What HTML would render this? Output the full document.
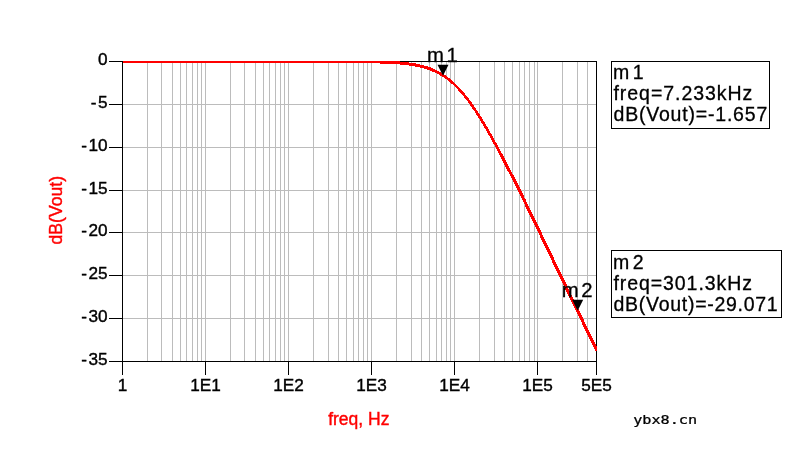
<!DOCTYPE html>
<html lang="en"><head><meta charset="utf-8"><title>dB(Vout) vs freq</title>
<style>
html,body{margin:0;padding:0;background:#fff;}
body{width:812px;height:450px;overflow:hidden;position:relative;}
svg{position:absolute;left:0;top:0;display:block;}
text{font-family:"Liberation Sans",Arial,Helvetica,sans-serif;fill:#000;}
.tick{font-size:17.2px;stroke:#000;stroke-width:0.4px;}
.red{fill:#ff0000;stroke:#ff0000;stroke-width:0.4px;}
.mk{font-size:19.5px;stroke:#000;stroke-width:0.3px;}
.wm{font-family:"DejaVu Sans Mono","Liberation Mono",monospace;font-size:11.5px;stroke:#000;stroke-width:0.25px;}
</style></head><body>
<svg width="812" height="450" viewBox="0 0 812 450">
<rect x="0" y="0" width="812" height="450" fill="#ffffff"/>
<g shape-rendering="crispEdges" stroke="#bcbcbc" stroke-width="1">
<line x1="147.5" y1="61" x2="147.5" y2="361"/>
<line x1="161.5" y1="61" x2="161.5" y2="361"/>
<line x1="172.5" y1="61" x2="172.5" y2="361"/>
<line x1="180.5" y1="61" x2="180.5" y2="361"/>
<line x1="186.5" y1="61" x2="186.5" y2="361"/>
<line x1="192.5" y1="61" x2="192.5" y2="361"/>
<line x1="197.5" y1="61" x2="197.5" y2="361"/>
<line x1="201.5" y1="61" x2="201.5" y2="361"/>
<line x1="205.5" y1="61" x2="205.5" y2="361"/>
<line x1="230.5" y1="61" x2="230.5" y2="361"/>
<line x1="244.5" y1="61" x2="244.5" y2="361"/>
<line x1="255.5" y1="61" x2="255.5" y2="361"/>
<line x1="263.5" y1="61" x2="263.5" y2="361"/>
<line x1="269.5" y1="61" x2="269.5" y2="361"/>
<line x1="275.5" y1="61" x2="275.5" y2="361"/>
<line x1="280.5" y1="61" x2="280.5" y2="361"/>
<line x1="284.5" y1="61" x2="284.5" y2="361"/>
<line x1="288.5" y1="61" x2="288.5" y2="361"/>
<line x1="313.5" y1="61" x2="313.5" y2="361"/>
<line x1="328.5" y1="61" x2="328.5" y2="361"/>
<line x1="338.5" y1="61" x2="338.5" y2="361"/>
<line x1="346.5" y1="61" x2="346.5" y2="361"/>
<line x1="353.5" y1="61" x2="353.5" y2="361"/>
<line x1="358.5" y1="61" x2="358.5" y2="361"/>
<line x1="363.5" y1="61" x2="363.5" y2="361"/>
<line x1="367.5" y1="61" x2="367.5" y2="361"/>
<line x1="371.5" y1="61" x2="371.5" y2="361"/>
<line x1="396.5" y1="61" x2="396.5" y2="361"/>
<line x1="411.5" y1="61" x2="411.5" y2="361"/>
<line x1="421.5" y1="61" x2="421.5" y2="361"/>
<line x1="429.5" y1="61" x2="429.5" y2="361"/>
<line x1="436.5" y1="61" x2="436.5" y2="361"/>
<line x1="441.5" y1="61" x2="441.5" y2="361"/>
<line x1="446.5" y1="61" x2="446.5" y2="361"/>
<line x1="450.5" y1="61" x2="450.5" y2="361"/>
<line x1="454.5" y1="61" x2="454.5" y2="361"/>
<line x1="479.5" y1="61" x2="479.5" y2="361"/>
<line x1="494.5" y1="61" x2="494.5" y2="361"/>
<line x1="504.5" y1="61" x2="504.5" y2="361"/>
<line x1="512.5" y1="61" x2="512.5" y2="361"/>
<line x1="519.5" y1="61" x2="519.5" y2="361"/>
<line x1="524.5" y1="61" x2="524.5" y2="361"/>
<line x1="529.5" y1="61" x2="529.5" y2="361"/>
<line x1="534.5" y1="61" x2="534.5" y2="361"/>
<line x1="537.5" y1="61" x2="537.5" y2="361"/>
<line x1="562.5" y1="61" x2="562.5" y2="361"/>
<line x1="577.5" y1="61" x2="577.5" y2="361"/>
<line x1="587.5" y1="61" x2="587.5" y2="361"/>
<line x1="122" y1="104.5" x2="596" y2="104.5"/>
<line x1="122" y1="147.5" x2="596" y2="147.5"/>
<line x1="122" y1="190.5" x2="596" y2="190.5"/>
<line x1="122" y1="232.5" x2="596" y2="232.5"/>
<line x1="122" y1="275.5" x2="596" y2="275.5"/>
<line x1="122" y1="318.5" x2="596" y2="318.5"/>
</g>
<g shape-rendering="crispEdges" stroke="#000" stroke-width="1">
<line x1="122.5" y1="61" x2="122.5" y2="362"/>
<line x1="596.5" y1="61" x2="596.5" y2="375"/>
<line x1="122" y1="61.5" x2="597" y2="61.5"/>
<line x1="122" y1="361.5" x2="597" y2="361.5"/>
<line x1="109" y1="61.5" x2="122" y2="61.5"/>
<line x1="109" y1="104.5" x2="122" y2="104.5"/>
<line x1="109" y1="147.5" x2="122" y2="147.5"/>
<line x1="109" y1="190.5" x2="122" y2="190.5"/>
<line x1="109" y1="232.5" x2="122" y2="232.5"/>
<line x1="109" y1="275.5" x2="122" y2="275.5"/>
<line x1="109" y1="318.5" x2="122" y2="318.5"/>
<line x1="109" y1="361.5" x2="122" y2="361.5"/>
<line x1="122.5" y1="361" x2="122.5" y2="375"/>
<line x1="205.5" y1="361" x2="205.5" y2="375"/>
<line x1="288.5" y1="361" x2="288.5" y2="375"/>
<line x1="371.5" y1="361" x2="371.5" y2="375"/>
<line x1="454.5" y1="361" x2="454.5" y2="375"/>
<line x1="537.5" y1="361" x2="537.5" y2="375"/>
</g>
<clipPath id="cp"><rect x="122" y="61" width="475" height="301"/></clipPath>
<g clip-path="url(#cp)" shape-rendering="crispEdges" fill="none" stroke="#ff0000" stroke-linejoin="round">
<polyline stroke-width="3.0" points="122.50,61.50 123.29,61.50 124.08,61.50 124.88,61.50 125.67,61.50 126.46,61.50 127.25,61.50 128.05,61.50 128.84,61.50 129.63,61.50 130.42,61.50 131.21,61.50 132.01,61.50 132.80,61.50 133.59,61.50 134.38,61.50 135.17,61.50 135.97,61.50 136.76,61.50 137.55,61.50 138.34,61.50 139.14,61.50 139.93,61.50 140.72,61.50 141.51,61.50 142.30,61.50 143.10,61.50 143.89,61.50 144.68,61.50 145.47,61.50 146.26,61.50 147.06,61.50 147.85,61.50 148.64,61.50 149.43,61.50 150.23,61.50 151.02,61.50 151.81,61.50 152.60,61.50 153.39,61.50 154.19,61.50 154.98,61.50 155.77,61.50 156.56,61.50 157.36,61.50 158.15,61.50 158.94,61.50 159.73,61.50 160.52,61.50 161.32,61.50 162.11,61.50 162.90,61.50 163.69,61.50 164.48,61.50 165.28,61.50 166.07,61.50 166.86,61.50 167.65,61.50 168.45,61.50 169.24,61.50 170.03,61.50 170.82,61.50 171.61,61.50 172.41,61.50 173.20,61.50 173.99,61.50 174.78,61.50 175.58,61.50 176.37,61.50 177.16,61.50 177.95,61.50 178.74,61.50 179.54,61.50 180.33,61.50 181.12,61.50 181.91,61.50 182.70,61.50 183.50,61.50 184.29,61.50 185.08,61.50 185.87,61.50 186.67,61.50 187.46,61.50 188.25,61.50 189.04,61.50 189.83,61.50 190.63,61.50 191.42,61.50 192.21,61.50 193.00,61.50 193.79,61.50 194.59,61.50 195.38,61.50 196.17,61.50 196.96,61.50 197.76,61.50 198.55,61.50 199.34,61.50 200.13,61.50 200.92,61.50 201.72,61.50 202.51,61.50 203.30,61.50 204.09,61.50 204.89,61.50 205.68,61.50 206.47,61.50 207.26,61.50 208.05,61.50 208.85,61.50 209.64,61.50 210.43,61.50 211.22,61.50 212.01,61.50 212.81,61.50 213.60,61.50 214.39,61.50 215.18,61.50 215.98,61.50 216.77,61.50 217.56,61.50 218.35,61.50 219.14,61.50 219.94,61.50 220.73,61.50 221.52,61.50 222.31,61.50 223.11,61.50 223.90,61.50 224.69,61.50 225.48,61.50 226.27,61.50 227.07,61.50 227.86,61.50 228.65,61.50 229.44,61.50 230.23,61.50 231.03,61.50 231.82,61.50 232.61,61.50 233.40,61.50 234.20,61.50 234.99,61.50 235.78,61.50 236.57,61.50 237.36,61.50 238.16,61.50 238.95,61.50 239.74,61.50 240.53,61.50 241.32,61.50 242.12,61.50 242.91,61.50 243.70,61.50 244.49,61.50 245.29,61.50 246.08,61.50 246.87,61.50 247.66,61.50 248.45,61.50 249.25,61.50 250.04,61.50 250.83,61.50 251.62,61.50 252.42,61.50 253.21,61.50 254.00,61.50 254.79,61.50 255.58,61.50 256.38,61.50 257.17,61.50 257.96,61.50 258.75,61.50 259.54,61.50 260.34,61.50 261.13,61.50 261.92,61.50 262.71,61.50 263.51,61.50 264.30,61.50 265.09,61.50 265.88,61.50 266.67,61.50 267.47,61.50 268.26,61.50 269.05,61.50 269.84,61.50 270.64,61.50 271.43,61.50 272.22,61.50 273.01,61.50 273.80,61.50 274.60,61.50 275.39,61.50 276.18,61.50 276.97,61.50 277.76,61.50 278.56,61.50 279.35,61.50 280.14,61.50 280.93,61.50 281.73,61.50 282.52,61.50 283.31,61.50 284.10,61.50 284.89,61.50 285.69,61.50 286.48,61.50 287.27,61.50 288.06,61.50 288.85,61.50 289.65,61.50 290.44,61.50 291.23,61.50 292.02,61.50 292.82,61.50 293.61,61.50 294.40,61.50 295.19,61.50 295.98,61.50 296.78,61.51 297.57,61.51 298.36,61.51 299.15,61.51 299.95,61.51 300.74,61.51 301.53,61.51 302.32,61.51 303.11,61.51 303.91,61.51 304.70,61.51 305.49,61.51 306.28,61.51 307.07,61.51 307.87,61.51 308.66,61.51 309.45,61.51 310.24,61.51 311.04,61.51 311.83,61.51 312.62,61.51 313.41,61.51 314.20,61.51 315.00,61.51 315.79,61.51 316.58,61.52 317.37,61.52 318.17,61.52 318.96,61.52 319.75,61.52 320.54,61.52 321.33,61.52 322.13,61.52 322.92,61.52 323.71,61.52 324.50,61.52 325.29,61.52 326.09,61.53 326.88,61.53 327.67,61.53 328.46,61.53 329.26,61.53 330.05,61.53 330.84,61.53 331.63,61.54 332.42,61.54 333.22,61.54 334.01,61.54 334.80,61.54 335.59,61.54 336.38,61.55 337.18,61.55 337.97,61.55 338.76,61.55 339.55,61.55 340.35,61.56 341.14,61.56 341.93,61.56 342.72,61.57 343.51,61.57 344.31,61.57 345.10,61.57 345.89,61.58 346.68,61.58 347.48,61.58 348.27,61.59 349.06,61.59 349.85,61.60 350.64,61.60 351.44,61.61 352.23,61.61 353.02,61.62 353.81,61.62 354.60,61.63 355.40,61.63 356.19,61.64 356.98,61.64 357.77,61.65 358.57,61.66 359.36,61.66 360.15,61.67 360.94,61.68 361.73,61.69 362.53,61.69 363.32,61.70 364.11,61.71 364.90,61.72 365.70,61.73 366.49,61.74 367.28,61.75 368.07,61.76 368.86,61.78 369.66,61.79 370.45,61.80 371.24,61.82 372.03,61.83 372.82,61.84 373.62,61.86 374.41,61.88 375.20,61.89 375.99,61.91 376.79,61.93 377.58,61.95 378.37,61.97 379.16,61.99 379.95,62.01 380.75,62.03 381.54,62.06 382.33,62.08 383.12,62.11 383.91,62.13 384.71,62.16 385.50,62.19 386.29,62.22 387.08,62.25 387.88,62.29 388.67,62.32 389.46,62.36 390.25,62.40 391.04,62.44 391.84,62.48 392.63,62.52 393.42,62.57 394.21,62.61 395.01,62.66 395.80,62.71 396.59,62.77 397.38,62.82 398.17,62.88 398.97,62.94 399.76,63.01 400.55,63.07 401.34,63.14 402.13,63.21 402.93,63.29 403.72,63.37 404.51,63.45 405.30,63.53 406.10,63.62 406.89,63.71 407.68,63.81 408.47,63.91 409.26,64.01 410.06,64.12 410.85,64.24 411.64,64.35 412.43,64.48 413.23,64.60 414.02,64.74 414.81,64.88 415.60,65.02 416.39,65.17 417.19,65.33 417.98,65.49 418.77,65.66 419.56,65.84 420.35,66.02 421.15,66.21 421.94,66.41 422.73,66.61 423.52,66.83 424.32,67.05 425.11,67.28 425.90,67.52 426.69,67.77 427.48,68.02 428.28,68.29 429.07,68.57 429.86,68.86 430.65,69.15 431.44,69.46 432.24,69.78 433.03,70.12 433.82,70.46 434.61,70.81 435.41,71.18 436.20,71.56 436.99,71.95 437.78,72.36 438.57,72.78 439.37,73.22 440.16,73.66 440.95,74.13 441.74,74.60 442.54,75.09"/>
<polyline stroke-width="2.7" points="442.54,75.09 443.33,75.60 444.12,76.12 444.91,76.66 445.70,77.22 446.50,77.79 447.29,78.37 448.08,78.98 448.87,79.60 449.66,80.23 450.46,80.89 451.25,81.56 452.04,82.25 452.83,82.96 453.63,83.68 454.42,84.42 455.21,85.18 456.00,85.96 456.79,86.75 457.59,87.57 458.38,88.40 459.17,89.25 459.96,90.11 460.76,91.00 461.55,91.90 462.34,92.82 463.13,93.76 463.92,94.71 464.72,95.69 465.51,96.68 466.30,97.68 467.09,98.71 467.88,99.75 468.68,100.80 469.47,101.88 470.26,102.96 471.05,104.07 471.85,105.19 472.64,106.32 473.43,107.47 474.22,108.64 475.01,109.82 475.81,111.01 476.60,112.22 477.39,113.44 478.18,114.68 478.98,115.93 479.77,117.19 480.56,118.46 481.35,119.75 482.14,121.04 482.94,122.35 483.73,123.67 484.52,125.00 485.31,126.34 486.10,127.69 486.90,129.06 487.69,130.43 488.48,131.81 489.27,133.20 490.07,134.60 490.86,136.01 491.65,137.42 492.44,138.85 493.23,140.28 494.03,141.72 494.82,143.17 495.61,144.62 496.40,146.08 497.19,147.55 497.99,149.02 498.78,150.50 499.57,151.99 500.36,153.48"/>
<polyline stroke-width="3.1" points="500.36,153.48 501.16,154.98 501.95,156.48 502.74,157.99 503.53,159.50 504.32,161.02 505.12,162.54 505.91,164.07 506.70,165.60 507.49,167.14 508.29,168.68 509.08,170.22 509.87,171.77 510.66,173.32 511.45,174.87 512.25,176.43 513.04,177.99 513.83,179.55 514.62,181.11 515.41,182.68 516.20,184.25 516.99,185.83 517.78,187.40 518.57,188.98 519.35,190.56 520.14,192.14 520.93,193.73 521.71,195.32 522.50,196.91 523.28,198.50 524.07,200.09 524.85,201.68 525.63,203.28 526.41,204.88 527.20,206.47 527.98,208.07 528.76,209.68 529.54,211.28 530.32,212.88 531.10,214.49 531.88,216.10 532.66,217.70 533.44,219.31 534.22,220.92 535.00,222.53 535.78,224.14 536.55,225.76 537.33,227.37 538.11,228.98 538.89,230.60 539.67,232.21 540.45,233.83 541.22,235.45 542.00,237.07 542.78,238.68 543.56,240.30 544.34,241.92 545.11,243.54 545.89,245.16 546.67,246.78 547.45,248.41 548.23,250.03 549.00,251.65 549.78,253.27 550.56,254.90 551.34,256.52 552.12,258.15 552.90,259.77 553.68,261.40 554.46,263.02 555.24,264.65 556.02,266.27 556.80,267.90 557.59,269.53 558.37,271.15 559.15,272.78 559.93,274.41 560.72,276.03 561.50,277.66 562.29,279.29 563.07,280.92 563.86,282.55 564.64,284.17 565.43,285.80 566.22,287.43 567.01,289.06 567.80,290.69 568.59,292.32 569.38,293.95 570.17,295.58 570.96,297.21 571.75,298.84 572.54,300.47 573.33,302.10 574.13,303.73 574.92,305.36 575.71,306.99 576.50,308.62 577.30,310.25 578.09,311.88 578.88,313.51 579.67,315.14 580.46,316.77 581.26,318.41 582.05,320.04 582.84,321.67 583.63,323.30 584.43,324.93 585.22,326.56 586.01,328.19 586.80,329.83 587.59,331.46 588.39,333.09 589.18,334.72 589.97,336.35 590.76,337.98 591.55,339.62 592.35,341.25 593.14,342.88 593.93,344.51 594.72,346.14 595.52,347.77 596.31,349.41 597.10,351.04"/>
</g>
<text class="tick" x="107.6" y="65.4" text-anchor="end">0</text>
<text class="tick" x="107.6" y="108.4" text-anchor="end">-<tspan dx="1.6">5</tspan></text>
<text class="tick" x="107.6" y="151.4" text-anchor="end">-<tspan dx="1.6">10</tspan></text>
<text class="tick" x="107.6" y="194.4" text-anchor="end">-<tspan dx="1.6">15</tspan></text>
<text class="tick" x="107.6" y="236.4" text-anchor="end">-<tspan dx="1.6">20</tspan></text>
<text class="tick" x="107.6" y="279.4" text-anchor="end">-<tspan dx="1.6">25</tspan></text>
<text class="tick" x="107.6" y="322.4" text-anchor="end">-<tspan dx="1.6">30</tspan></text>
<text class="tick" x="107.6" y="365.4" text-anchor="end">-<tspan dx="1.6">35</tspan></text>
<text class="tick" x="122.5" y="390.8" text-anchor="middle">1</text>
<text class="tick" x="205.5" y="390.8" text-anchor="middle">1E1</text>
<text class="tick" x="288.5" y="390.8" text-anchor="middle">1E2</text>
<text class="tick" x="371.5" y="390.8" text-anchor="middle">1E3</text>
<text class="tick" x="454.5" y="390.8" text-anchor="middle">1E4</text>
<text class="tick" x="537.5" y="390.8" text-anchor="middle">1E5</text>
<text class="tick" x="596.5" y="390.8" text-anchor="middle">5E5</text>
<text class="red" style="font-size:17.5px" x="358.8" y="425" text-anchor="middle">freq, Hz</text>
<text class="red" style="font-size:17.6px" transform="translate(62.0,210.2) rotate(-90)" text-anchor="middle">dB(Vout)</text>
<polygon fill="#000" points="437.5,64.7 448.5,64.7 443.0,75.7"/>
<text class="mk" x="427.1" y="61.5" style="font-size:20.3px;letter-spacing:2.6px">m1</text>
<polygon fill="#000" points="572.2,299.7 583.2,299.7 577.7,310.7"/>
<text class="mk" x="561.8" y="296.5" style="font-size:20.3px;letter-spacing:2.6px">m2</text>
<rect shape-rendering="crispEdges" x="611.5" y="61.5" width="158" height="67" fill="#fff" stroke="#000" stroke-width="1"/>
<text class="mk" x="612.9" y="79.3" style="letter-spacing:3.6px">m1</text>
<text class="mk" x="613.5" y="100.3" style="letter-spacing:0.95px">freq=7.233kHz</text>
<text class="mk" x="613.5" y="121.3" style="letter-spacing:0.8px">dB(Vout)=-1.657</text>
<rect shape-rendering="crispEdges" x="611.5" y="250.5" width="170" height="67" fill="#fff" stroke="#000" stroke-width="1"/>
<text class="mk" x="612.9" y="268.7" style="letter-spacing:3.6px">m2</text>
<text class="mk" x="613.5" y="289.7" style="letter-spacing:0.92px">freq=301.3kHz</text>
<text class="mk" x="613.5" y="310.7" style="letter-spacing:0.72px">dB(Vout)=-29.071</text>
<text class="wm" transform="translate(633.2,424) scale(1.32,1)">ybx8.cn</text>
</svg></body></html>
